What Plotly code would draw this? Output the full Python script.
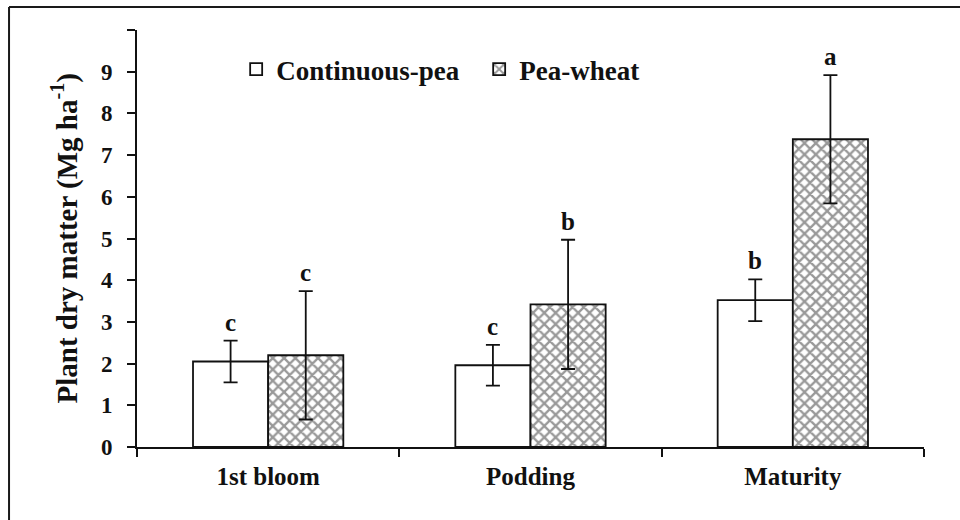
import plotly.graph_objects as go

# Sampling stages and treatment means (Mg ha-1) with error half-widths
stages = ["1st bloom", "Podding", "Maturity"]
cont_pea = [2.05, 1.96, 3.52]
cont_pea_err = [0.50, 0.49, 0.50]
pea_wheat = [2.20, 3.42, 7.38]
pea_wheat_err = [1.54, 1.55, 1.54]
cont_pea_letters = ["c", "c", "b"]
pea_wheat_letters = ["c", "b", "a"]
y_ticks = [0, 1, 2, 3, 4, 5, 6, 7, 8, 9]
y_top = 10

FONT = "Liberation Serif"
INK = "#111111"

fig = go.Figure()
fig.add_trace(go.Bar(
    name="<b>Continuous-pea</b>", x=stages, y=cont_pea,
    marker=dict(color="white", line=dict(color=INK, width=1.8)),
    error_y=dict(type="data", array=cont_pea_err, color=INK, thickness=1.8, width=7),
))
fig.add_trace(go.Bar(
    name="<b>Pea-wheat</b>", x=stages, y=pea_wheat,
    marker=dict(color="white", line=dict(color=INK, width=1.8),
                pattern=dict(shape="x", size=8, solidity=0.5,
                             fgcolor="#333333", bgcolor="white")),
    error_y=dict(type="data", array=pea_wheat_err, color=INK, thickness=1.8, width=7),
))

# significance letters above each error bar
offset = 0.1435
for i, st in enumerate(stages):
    for vals, errs, letters, dx in ((cont_pea, cont_pea_err, cont_pea_letters, -offset),
                                    (pea_wheat, pea_wheat_err, pea_wheat_letters, offset)):
        fig.add_annotation(
            x=i + dx, y=vals[i] + errs[i], xref="x", yref="y",
            text="<b>%s</b>" % letters[i], showarrow=False,
            yanchor="bottom", yshift=3,
            font=dict(family=FONT, size=25, color=INK),
        )

# y-axis title
fig.add_annotation(
    x=-0.0915, y=0.5, xref="paper", yref="paper",
    text="<b>Plant dry matter (Mg ha<sup>-1</sup>)</b>",
    textangle=-90, showarrow=False, xanchor="center", yanchor="middle",
    font=dict(family=FONT, size=29, color=INK),
)

# outer frame: top and left edges
fig.add_shape(type="line", xref="paper", yref="paper",
              x0=-0.1626, x1=1.06, y0=1.0552, y1=1.0552,
              line=dict(color="#1a1a1a", width=2))
fig.add_shape(type="line", xref="paper", yref="paper",
              x0=-0.1626, x1=-0.1626, y0=1.0552, y1=-0.2,
              line=dict(color="#1a1a1a", width=2))

fig.update_layout(
    width=960, height=520,
    margin=dict(l=137, r=36, t=30, b=73.3),
    paper_bgcolor="white", plot_bgcolor="white",
    barmode="group", bargap=0.427, bargroupgap=0,
    font=dict(family=FONT, color=INK),
    showlegend=True,
    legend=dict(
        orientation="h", x=0.126, y=0.905, xanchor="left", yanchor="middle",
        font=dict(family=FONT, size=27, color=INK),
        bgcolor="rgba(0,0,0,0)", itemwidth=30, tracegroupgap=0,
        entrywidthmode="pixels", entrywidth=198,
    ),
    xaxis=dict(
        range=[-0.5, 2.5], showline=True, linecolor=INK, linewidth=1.8,
        ticks="outside", tickson="boundaries", ticklen=8, tickwidth=1.8, tickcolor=INK,
        tickvals=stages, ticktext=["<b>%s</b>" % s for s in stages],
        tickfont=dict(family=FONT, size=25, color=INK),
        ticklabelstandoff=6, showgrid=False, zeroline=False,
    ),
    yaxis=dict(
        range=[0, y_top], tickvals=y_ticks,
        ticktext=["<b>%d</b>" % t for t in y_ticks],
        showline=True, linecolor=INK, linewidth=1.8,
        ticks="outside", ticklen=8, tickwidth=1.8, tickcolor=INK,
        tickfont=dict(family=FONT, size=23, color=INK),
        ticklabelstandoff=10, showgrid=False, zeroline=False,
        minor=dict(tickvals=[y_top], ticks="outside", ticklen=8, tickwidth=1.8,
                   tickcolor=INK, showgrid=False),
    ),
)

fig.write_html("out.html")
